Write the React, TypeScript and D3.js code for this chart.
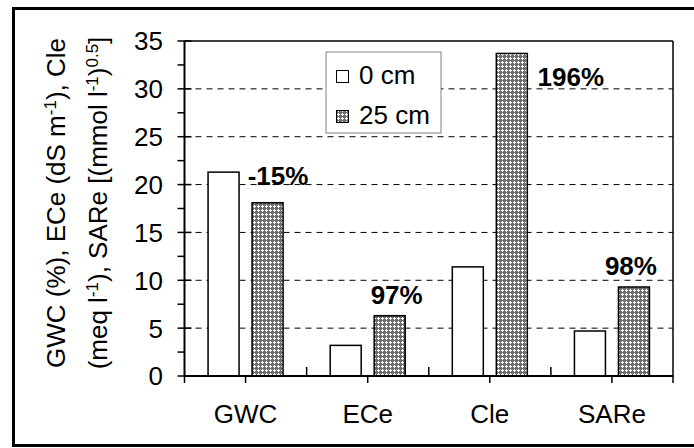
import React from "react";
import * as d3 from "d3";

const categories = ["GWC", "ECe", "Cle", "SARe"];
const series0cm = [21.3, 3.2, 11.4, 4.7];
const series25cm = [18.1, 6.3, 33.7, 9.3];
const changeLabels = ["-15%", "97%", "196%", "98%"];
// label anchor: baseline in data units, x offset (px) from the 25 cm bar centre
const labelBaseY = [20.0, 7.5, 30.3, 10.55];
const labelDx = [10.5, 7, 59, -3];
const yTicks = [0, 5, 10, 15, 20, 25, 30, 35];
const yMinorTicks = [2.5, 7.5, 12.5, 17.5, 22.5, 27.5, 32.5];
const gridValues = [5, 10, 15, 20, 25, 30];
const legendItems = ["0 cm", "25 cm"];

const W = 694;
const H = 448;
const M = { left: 184.5, right: 673, top: 41, bottom: 376 };
const FONT = "'Liberation Sans', Arial, sans-serif";

export default function App() {
  const y = d3.scaleLinear().domain([0, 35]).range([M.bottom, M.top]);
  const x = d3.scaleBand().domain(categories).range([M.left, M.right]).paddingInner(0).paddingOuter(0);
  const barW = 31;
  const off = 22;
  const fs = 26;

  const boundaries = d3.range(categories.length + 1).map((i) => M.left + i * x.step());
  const centers = categories.map((c) => (x(c) as number) + x.bandwidth() / 2);

  return (
    <svg width={W} height={H} style={{ position: "absolute", left: 0, top: 0, background: "#fff" }} fontFamily={FONT}>
      <defs>
        <pattern id="hatch" width="4" height="4" patternUnits="userSpaceOnUse">
          <rect width="4" height="4" fill="#6f6f6f" />
          <rect x="2" y="1" width="1" height="3" fill="#fff" />
          <rect x="1" y="2" width="3" height="1" fill="#fff" />
        </pattern>
      </defs>
      <rect x={0} y={0} width={W} height={H} fill="#fff" />
      {/* outer border */}
      <rect x={13.5} y={8.5} width={692} height={437} fill="none" stroke="#000" strokeWidth={3} />

      {/* gridlines */}
      {gridValues.map((v) => (
        <line key={v} x1={M.left} x2={M.right} y1={y(v)} y2={y(v)} stroke="#000" strokeWidth={1} strokeDasharray="6,5" />
      ))}

      {/* bars */}
      {categories.map((c, i) => {
        const cx = centers[i];
        return (
          <g key={c}>
            <rect x={cx - off - barW / 2} y={y(series0cm[i])} width={barW} height={y(0) - y(series0cm[i])} fill="#fff" stroke="#000" strokeWidth={1.5} />
            <rect x={cx + off - barW / 2} y={y(series25cm[i])} width={barW} height={y(0) - y(series25cm[i])} fill="url(#hatch)" stroke="#000" strokeWidth={1.5} />
          </g>
        );
      })}

      {/* plot frame top & right */}
      <line x1={M.left} x2={M.right} y1={M.top} y2={M.top} stroke="#000" strokeWidth={1.5} />
      <line x1={M.right} x2={M.right} y1={M.top} y2={M.bottom} stroke="#000" strokeWidth={1.5} />

      {/* y axis */}
      <line x1={M.left} x2={M.left} y1={M.top} y2={M.bottom} stroke="#000" strokeWidth={2} />
      {yTicks.map((v) => (
        <g key={v}>
          <line x1={M.left - 7} x2={M.left + 7} y1={y(v)} y2={y(v)} stroke="#000" strokeWidth={1.5} />
          <text x={163} y={y(v)} dy="0.36em" textAnchor="end" fontSize={fs}>{v}</text>
        </g>
      ))}
      {yMinorTicks.map((v) => (
        <line key={v} x1={M.left - 7} x2={M.left} y1={y(v)} y2={y(v)} stroke="#000" strokeWidth={1.5} />
      ))}

      {/* x axis */}
      <line x1={M.left} x2={M.right} y1={M.bottom} y2={M.bottom} stroke="#000" strokeWidth={2} />
      {boundaries.map((bx, i) => (
        <line key={"b" + i} x1={bx} x2={bx} y1={M.bottom} y2={i === 0 || i === boundaries.length - 1 ? M.bottom + 7 : M.bottom - 9} stroke="#000" strokeWidth={1.5} />
      ))}
      {centers.map((cx, i) => (
        <line key={"c" + i} x1={cx} x2={cx} y1={M.bottom} y2={M.bottom + 7} stroke="#000" strokeWidth={1.5} />
      ))}
      {categories.map((c, i) => (
        <text key={c} x={centers[i]} y={423} textAnchor="middle" fontSize={fs}>{c}</text>
      ))}

      {/* change labels */}
      {categories.map((c, i) => (
        <text key={"l" + c} x={centers[i] + off + labelDx[i]} y={y(labelBaseY[i])} textAnchor="middle" fontSize={fs} fontWeight="bold">{changeLabels[i]}</text>
      ))}

      {/* legend */}
      <rect x={326} y={52} width={115} height={81} fill="#fff" stroke="#808080" strokeWidth={1} />
      {legendItems.map((t, i) => (
        <g key={t}>
          <rect x={336.5} y={70.5 + i * 40} width={12} height={12} fill={i === 0 ? "#fff" : "url(#hatch)"} stroke="#000" strokeWidth={1} />
          <text x={359} y={84 + i * 40} fontSize={fs}>{t}</text>
        </g>
      ))}

      {/* y axis title */}
      <g transform="translate(65,203) rotate(-90)">
        <text x={0} y={0} textAnchor="middle" fontSize={fs}>
          GWC (%), ECe (dS m<tspan dy={-9} fontSize={17}>-1</tspan><tspan dy={9}>), Cle</tspan>
        </text>
      </g>
      <g transform="translate(106.5,203) rotate(-90)">
        <text x={0} y={0} textAnchor="middle" fontSize={fs}>
          (meq l<tspan dy={-9} fontSize={17}>-1</tspan><tspan dy={9}>), SARe [(mmol l</tspan><tspan dy={-9} fontSize={17}>-1</tspan><tspan dy={9}>)</tspan><tspan dy={-9} fontSize={17}>0.5</tspan><tspan dy={9}>]</tspan>
        </text>
      </g>
    </svg>
  );
}
